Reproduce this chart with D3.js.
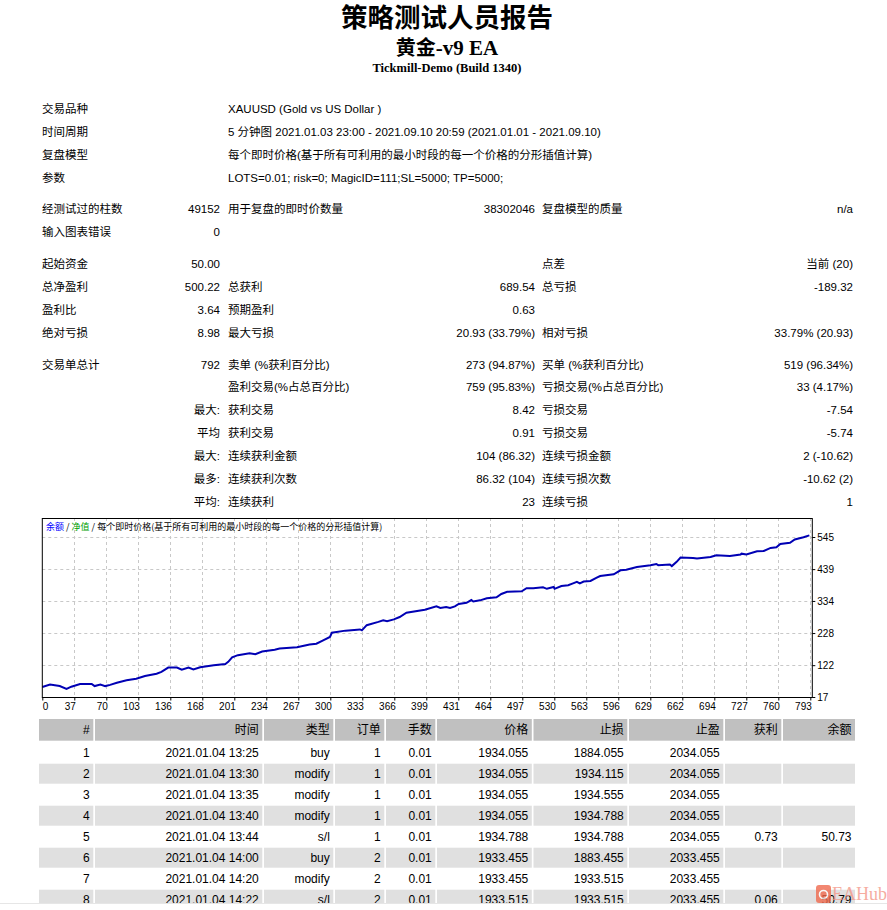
<!DOCTYPE html>
<html>
<head>
<meta charset="utf-8">
<script src="https://cdn.jsdelivr.net/npm/d3@7"></script>
<style>
  html, body { margin: 0; padding: 0; background: #fff; overflow: hidden; }
  svg text { font-family: "Liberation Sans", Arial, "Noto Sans CJK SC", sans-serif; fill: #000; }
</style>
</head>
<body>
<svg id="report" width="887" height="910"></svg>
<script>
// header texts
var reportTitle = "策略测试人员报告";
var eaName = ["黄金", "-v9 EA"];
var serverName = "Tickmill-Demo (Build 1340)";

// summary block: [label1, value1, label2, value2, label3, value3]
var infoRows = [
  ["交易品种", "", "XAUUSD (Gold vs US Dollar )", "", "", ""],
  ["时间周期", "", "5 分钟图 2021.01.03 23:00 - 2021.09.10 20:59 (2021.01.01 - 2021.09.10)", "", "", ""],
  ["复盘模型", "", "每个即时价格(基于所有可利用的最小时段的每一个价格的分形插值计算)", "", "", ""],
  ["参数", "", "LOTS=0.01; risk=0; MagicID=111;SL=5000; TP=5000;", "", "", ""]
];
var barsRows = [
  ["经测试过的柱数", "49152", "用于复盘的即时价数量", "38302046", "复盘模型的质量", "n/a"],
  ["输入图表错误", "0", "", "", "", ""]
];
var profitRows = [
  ["起始资金", "50.00", "", "", "点差", "当前 (20)"],
  ["总净盈利", "500.22", "总获利", "689.54", "总亏损", "-189.32"],
  ["盈利比", "3.64", "预期盈利", "0.63", "", ""],
  ["绝对亏损", "8.98", "最大亏损", "20.93 (33.79%)", "相对亏损", "33.79% (20.93)"]
];
var tradeRows = [
  ["交易单总计", "792", "卖单 (%获利百分比)", "273 (94.87%)", "买单 (%获利百分比)", "519 (96.34%)"],
  ["", "", "盈利交易(%占总百分比)", "759 (95.83%)", "亏损交易(%占总百分比)", "33 (4.17%)"],
  ["", "最大:", "获利交易", "8.42", "亏损交易", "-7.54"],
  ["", "平均", "获利交易", "0.91", "亏损交易", "-5.74"],
  ["", "最大:", "连续获利金额", "104 (86.32)", "连续亏损金额", "2 (-10.62)"],
  ["", "最多:", "连续获利次数", "86.32 (104)", "连续亏损次数", "-10.62 (2)"],
  ["", "平均:", "连续获利", "23", "连续亏损", "1"]
];

// balance curve (trade number -> balance)
var tradeIdx = [0, 8, 18, 25, 30, 39, 51, 54, 60, 65,
  70, 77, 87, 97, 106, 118, 123, 130, 139, 144,
  151, 156, 163, 177, 189, 192, 196, 202, 214, 220,
  227, 240, 245, 263, 276, 283, 290, 297, 299, 313,
  328, 330, 335, 347, 352, 356, 363, 369, 376, 395,
  407, 411, 417, 421, 426, 430, 438, 443, 445, 452,
  459, 469, 474, 480, 495, 500, 507, 517, 521, 528,
  529, 536, 543, 548, 552, 555, 559, 566, 572, 576,
  590, 597, 603, 614, 628, 634, 636, 648, 650, 655,
  659, 672, 676, 690, 696, 710, 721, 722, 727, 738,
  745, 752, 758, 762, 772, 777, 786, 792];
var balance = [50, 58, 53, 44, 51, 60, 60, 53, 58, 53,
  57, 64, 72, 77, 86, 94, 100, 114, 114, 107,
  114, 108, 115, 122, 126, 133, 148, 155, 161, 158,
  167, 173, 177, 181, 190, 193, 204, 215, 229, 236,
  240, 237, 254, 265, 270, 267, 273, 281, 295, 305,
  316, 311, 314, 311, 316, 324, 328, 337, 332, 336,
  343, 346, 357, 364, 366, 376, 376, 379, 374, 380,
  374, 383, 386, 392, 397, 392, 398, 400, 410, 416,
  422, 435, 437, 446, 452, 456, 452, 454, 449, 463,
  477, 476, 474, 479, 485, 482, 487, 490, 487, 498,
  499, 509, 511, 522, 526, 537, 544, 550.22];
var xTickLabels = ["0", "37", "70", "103", "136", "168", "201", "234", "267", "300", "333", "366", "399",
  "431", "464", "497", "530", "563", "596", "629", "662", "694", "727", "760", "793"];
var yTickValues = [17, 122, 228, 334, 439, 545];
var legendParts = [["余额", "#0000ff"], [" / ", "#000"], ["净值", "#00a000"], [" / 每个即时价格(基于所有可利用的最小时段的每一个价格的分形插值计算)", "#000"]];

// deals table
var tableHeads = ["#", "时间", "类型", "订单", "手数", "价格", "止损", "止盈", "获利", "余额"];
var dealNo = ["1", "2", "3", "4", "5", "6", "7", "8"];
var dealTime = ["2021.01.04 13:25", "2021.01.04 13:30", "2021.01.04 13:35", "2021.01.04 13:40",
  "2021.01.04 13:44", "2021.01.04 14:00", "2021.01.04 14:20", "2021.01.04 14:22"];
var dealType = ["buy", "modify", "modify", "modify", "s/l", "buy", "modify", "s/l"];
var dealOrder = ["1", "1", "1", "1", "1", "2", "2", "2"];
var dealLots = ["0.01", "0.01", "0.01", "0.01", "0.01", "0.01", "0.01", "0.01"];
var dealPrice = ["1934.055", "1934.055", "1934.055", "1934.055", "1934.788", "1933.455", "1933.455", "1933.515"];
var dealSL = ["1884.055", "1934.115", "1934.555", "1934.788", "1934.788", "1883.455", "1933.515", "1933.515"];
var dealTP = ["2034.055", "2034.055", "2034.055", "2034.055", "2034.055", "2033.455", "2033.455", "2033.455"];
var dealProfit = ["", "", "", "", "0.73", "", "", "0.06"];
var dealBalance = ["", "", "", "", "50.73", "", "", "50.79"];

var watermark = "EAHub";

var svg = d3.select("#report");

// ---- titles ----
svg.append("text").attr("x", 447).attr("y", 26.5).attr("text-anchor", "middle")
  .style("font-family", "'Noto Sans CJK SC', sans-serif").style("font-weight", "bold").style("font-size", "26.5px")
  .text(reportTitle);

var sub = svg.append("text").attr("x", 447).attr("y", 55).attr("text-anchor", "middle")
  .style("font-weight", "bold").style("font-size", "21px");
sub.append("tspan").style("font-family", "'Noto Sans CJK SC', sans-serif").style("font-size", "20px").text(eaName[0]);
sub.append("tspan").style("font-family", "'Liberation Serif', 'Times New Roman', serif").text(eaName[1]);

svg.append("text").attr("x", 447).attr("y", 72).attr("text-anchor", "middle")
  .style("font-family", "'Liberation Serif', 'Times New Roman', serif").style("font-weight", "bold").style("font-size", "12.5px")
  .text(serverName);

// ---- summary ----
var colX = { l1: 42, v1: 220, l2: 228, v2: 535, l3: 542, v3: 853 };
var groups = [infoRows, barsRows, profitRows, tradeRows];
var rowStep = 22.85, groupGap = 9, yCur = 109;
groups.forEach(function (rows, gi) {
  rows.forEach(function (r, ri) {
    var g = svg.append("g").attr("class", "info-row").attr("transform", "translate(0," + yCur + ")");
    var cells = [
      [r[0], colX.l1, "start"], [r[1], colX.v1, "end"],
      [r[2], colX.l2, "start"], [r[3], colX.v2, "end"],
      [r[4], colX.l3, "start"], [r[5], colX.v3, "end"]
    ];
    g.selectAll("text").data(cells.filter(function (c) { return c[0] !== ""; }))
      .enter().append("text")
      .attr("x", function (d) { return d[1]; })
      .attr("dy", "0.35em")
      .attr("text-anchor", function (d) { return d[2]; })
      .style("font-size", "11.5px")
      .text(function (d) { return d[0]; });
    yCur += rowStep;
  });
  yCur += groupGap;
});

// ---- balance chart ----
var box = { left: 42.3, right: 812.3, top: 518, bottom: 697 };
var x = d3.scaleLinear().domain([0, 793]).range([42.3, 810.3]);
var y = d3.scaleLinear().domain([17, 545]).range([697, 537]);
var xStep = 793 / (xTickLabels.length - 1);
var xTickVals = xTickLabels.map(function (d, i) { return i * xStep; });

var chart = svg.append("g").attr("class", "chart");
chart.append("rect").attr("x", box.left).attr("y", box.top)
  .attr("width", box.right - box.left).attr("height", box.bottom - box.top).attr("fill", "#fff");

// grid
chart.append("g").selectAll("line").data(xTickVals.slice(1))
  .enter().append("line")
  .attr("x1", function (d) { return Math.round(x(d)) + 0.5; })
  .attr("x2", function (d) { return Math.round(x(d)) + 0.5; })
  .attr("y1", box.top).attr("y2", box.bottom)
  .attr("stroke", "#c8c8c8").attr("stroke-dasharray", "3,3");
chart.append("g").selectAll("line").data(yTickValues.slice(1))
  .enter().append("line")
  .attr("x1", box.left).attr("x2", box.right)
  .attr("y1", function (d) { return Math.round(y(d)) + 0.5; })
  .attr("y2", function (d) { return Math.round(y(d)) + 0.5; })
  .attr("stroke", "#c8c8c8").attr("stroke-dasharray", "3,3");

// legend
var leg = chart.append("text").attr("x", 46).attr("y", 527).attr("dy", "0.35em")
  .style("font-family", "'Noto Sans CJK SC', sans-serif").style("font-size", "9px");
leg.selectAll("tspan").data(legendParts).enter().append("tspan")
  .style("fill", function (d) { return d[1]; })
  .text(function (d) { return d[0]; });

// line
var line = d3.line()
  .x(function (d, i) { return x(tradeIdx[i]); })
  .y(function (d) { return y(d); });
chart.append("path").datum(balance)
  .attr("d", line)
  .attr("fill", "none")
  .attr("stroke", "#0000b4")
  .attr("stroke-width", 2)
  .attr("stroke-linejoin", "miter");

// frame
chart.append("rect").attr("x", box.left).attr("y", box.top + 0.5)
  .attr("width", box.right - box.left).attr("height", box.bottom - box.top)
  .attr("fill", "none").attr("stroke", "#000").attr("stroke-width", 1);

// axes
var xAxis = chart.append("g").attr("transform", "translate(0," + (box.bottom + 0.5) + ")")
  .call(d3.axisBottom(x).tickValues(xTickVals).tickSize(3).tickPadding(2)
    .tickFormat(function (d, i) { return xTickLabels[i]; }));
xAxis.select(".domain").remove();
xAxis.selectAll("text")
  .attr("text-anchor", function (d, i) { return i === 0 ? "start" : "end"; })
  .attr("x", function (d, i) { return i === 0 ? 0 : 1; })
  .style("font-size", "10px").style("font-family", "'Liberation Sans', Arial, sans-serif");

var yAxis = chart.append("g").attr("transform", "translate(" + box.right + ",0)")
  .call(d3.axisRight(y).tickValues(yTickValues).tickSize(3).tickPadding(2));
yAxis.select(".domain").remove();
yAxis.selectAll("text").style("font-size", "10px").style("font-family", "'Liberation Sans', Arial, sans-serif");

// ---- deals table ----
var colEdges = [39, 95, 264, 335, 386, 437, 533.5, 629, 725, 783, 856.7];
var tableCols = [dealNo, dealTime, dealType, dealOrder, dealLots, dealPrice, dealSL, dealTP, dealProfit, dealBalance];
var headTop = 719, headH = 21.7, rowTop = 741, rowH = 21, cellGap = 1.7;

var tbl = svg.append("g").attr("class", "deals");
var head = tbl.append("g");
head.selectAll("rect").data(tableHeads).enter().append("rect")
  .attr("x", function (d, i) { return colEdges[i]; })
  .attr("y", headTop)
  .attr("width", function (d, i) { return colEdges[i + 1] - colEdges[i] - cellGap; })
  .attr("height", headH)
  .attr("fill", "#c0c0c0");
head.selectAll("text").data(tableHeads).enter().append("text")
  .attr("x", function (d, i) { return colEdges[i + 1] - cellGap - 3.5; })
  .attr("y", headTop + headH / 2).attr("dy", "0.35em")
  .attr("text-anchor", "end").style("font-size", "12px")
  .style("font-family", "'Liberation Sans', 'Noto Sans CJK SC', sans-serif")
  .text(function (d) { return d; });

dealNo.forEach(function (n, r) {
  var top = rowTop + r * rowH;
  var g = tbl.append("g");
  if (r % 2 === 1) {
    g.selectAll("rect").data(tableCols).enter().append("rect")
      .attr("x", function (d, i) { return colEdges[i]; })
      .attr("y", top + 1.7)
      .attr("width", function (d, i) { return colEdges[i + 1] - colEdges[i] - cellGap; })
      .attr("height", rowH - 1)
      .attr("fill", "#e0e0e0");
  }
  g.selectAll("text").data(tableCols).enter().append("text")
    .attr("x", function (d, i) { return colEdges[i + 1] - cellGap - 3.5; })
    .attr("y", top + 11.5).attr("dy", "0.35em")
    .attr("text-anchor", "end").style("font-size", "12px")
    .text(function (d) { return d[r]; });
});

// the screenshot ends just under row 8
svg.append("rect").attr("x", 0).attr("y", 904).attr("width", 887).attr("height", 6).attr("fill", "#fff");
svg.append("line").attr("x1", 0).attr("x2", 887).attr("y1", 903.5).attr("y2", 903.5)
  .attr("stroke", "#e6e6e6").attr("stroke-width", 1);

// watermark
var wm = svg.append("g").attr("opacity", 0.8);
wm.append("rect").attr("x", 816).attr("y", 885).attr("width", 15).attr("height", 18).attr("rx", 3)
  .attr("fill", "#f06a4e");
wm.append("circle").attr("cx", 823.5).attr("cy", 894.5).attr("r", 4).attr("fill", "none")
  .attr("stroke", "#fff").attr("stroke-width", 1.6);
wm.append("text").attr("x", 832).attr("y", 894).attr("dy", "0.35em")
  .style("font-family", "'Liberation Serif', serif").style("font-size", "18px").style("fill", "#f4998a")
  .text(watermark);
</script>
</body>
</html>
